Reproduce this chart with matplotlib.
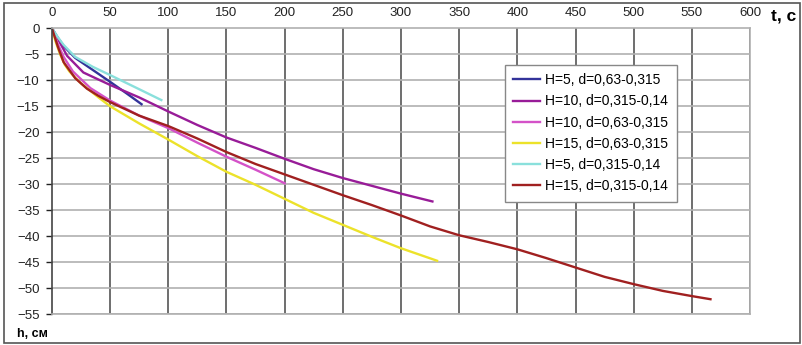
import matplotlib.pyplot as plt
from matplotlib.patches import Rectangle

plt.rcParams['font.family'] = ['Liberation Sans', 'DejaVu Sans']

# series: time t (c) and depth h (cm)
t_blue = [0, 5, 10, 20, 35, 50, 64, 77]
h_blue = [0, -1.8, -3.4, -5.7, -8.0, -10.3, -12.5, -14.6]

t_purple = [0, 5, 13, 27, 50, 75, 100, 125, 150, 175, 200, 225, 250, 275, 300, 327]
h_purple = [0, -2.0, -5.3, -8.5, -10.9, -13.3, -16.0, -18.6, -21.0, -23.0, -25.1, -27.1, -28.8, -30.3, -31.8, -33.3]

t_pink = [0, 5, 10, 18, 33, 50, 75, 100, 125, 150, 175, 200]
h_pink = [0, -3.0, -5.5, -8.3, -11.5, -13.9, -16.8, -19.2, -22.0, -24.7, -27.2, -29.8]

t_yellow = [0, 3, 7, 11, 15, 20, 25, 30, 40, 50, 75, 100, 125, 150, 175, 200, 225, 250, 275, 300, 331]
h_yellow = [0, -2.5, -5.0, -7.0, -8.3, -9.5, -10.6, -11.5, -13.3, -15.0, -18.3, -21.4, -24.6, -27.6, -30.1, -32.8, -35.5, -37.8, -40.1, -42.3, -44.7]

t_cyan = [0, 5, 10, 20, 35, 50, 73, 94]
h_cyan = [0, -1.7, -3.2, -5.5, -7.4, -9.0, -11.5, -13.8]

t_brown = [0, 5, 10, 20, 30, 40, 50, 75, 100, 125, 150, 175, 200, 225, 250, 275, 300, 325, 350, 375, 400, 425, 450, 475, 500, 525, 550, 566]
h_brown = [0, -3.5, -6.5, -9.6, -11.6, -13.0, -14.2, -16.8, -18.8, -21.2, -23.8, -26.1, -28.1, -30.1, -32.1, -34.0, -36.0, -38.1, -39.8, -41.1, -42.5, -44.2, -46.0, -47.8, -49.2, -50.5, -51.5, -52.1]

labels = ['H=5, d=0,63-0,315', 'H=10, d=0,315-0,14', 'H=10, d=0,63-0,315',
          'H=15, d=0,63-0,315', 'H=5, d=0,315-0,14', 'H=15, d=0,315-0,14']
colors = ['#33339a', '#981c98', '#d452c8', '#ece22a', '#8ae0dc', '#a02020']

x_ticks = list(range(0, 601, 50))
y_ticks = list(range(0, -56, -5))

fig = plt.figure(figsize=(8.02, 3.45), dpi=100)
ax = fig.add_axes([0.0648, 0.089, 0.8704, 0.829])

series = [(t_blue, h_blue), (t_purple, h_purple), (t_pink, h_pink),
          (t_yellow, h_yellow), (t_cyan, h_cyan), (t_brown, h_brown)]
for (t, h), lab, c in zip(series, labels, colors):
    ax.plot(t, h, color=c, lw=1.7, label=lab)

ax.set_xlim(0, 600)
ax.set_ylim(-55, 0)
ax.set_xticks(x_ticks)
ax.set_yticks(y_ticks)
ax.xaxis.tick_top()
ax.tick_params(axis='x', length=0, pad=7, labelsize=9.5, colors='#222222')
ax.tick_params(axis='y', length=4, width=1, pad=5, labelsize=9.5, colors='#222222')

for x in x_ticks[1:]:
    ax.axvline(x, color='#555555', lw=1.2, zorder=0)
for y in y_ticks[1:]:
    ax.axhline(y, color='#b0b0b0', lw=1.2, zorder=0)

ax.spines['left'].set_color('#444444')
ax.spines['left'].set_linewidth(1.2)
for side in ['top', 'right', 'bottom']:
    ax.spines[side].set_color('#b0b0b0')
    ax.spines[side].set_linewidth(1.2)

leg = ax.legend(loc='upper left', bbox_to_anchor=(0.649, 0.872), fontsize=10,
                frameon=True, fancybox=False, framealpha=1, edgecolor='#888888',
                handlelength=1.95, labelspacing=0.52, borderpad=0.6,
                handletextpad=0.35, borderaxespad=0)
leg.get_frame().set_linewidth(1.0)

fig.text(0.961, 0.955, 't, c', fontsize=12.5, fontweight='bold', ha='left', va='center')
fig.text(0.021, 0.032, 'h, см', fontsize=9, fontweight='bold', ha='left', va='center')

fig.add_artist(Rectangle((0.005, 0.006), 0.993, 0.985, transform=fig.transFigure,
                         fill=False, edgecolor='#555555', lw=1.2))

fig.savefig('out.png', dpi=100)
